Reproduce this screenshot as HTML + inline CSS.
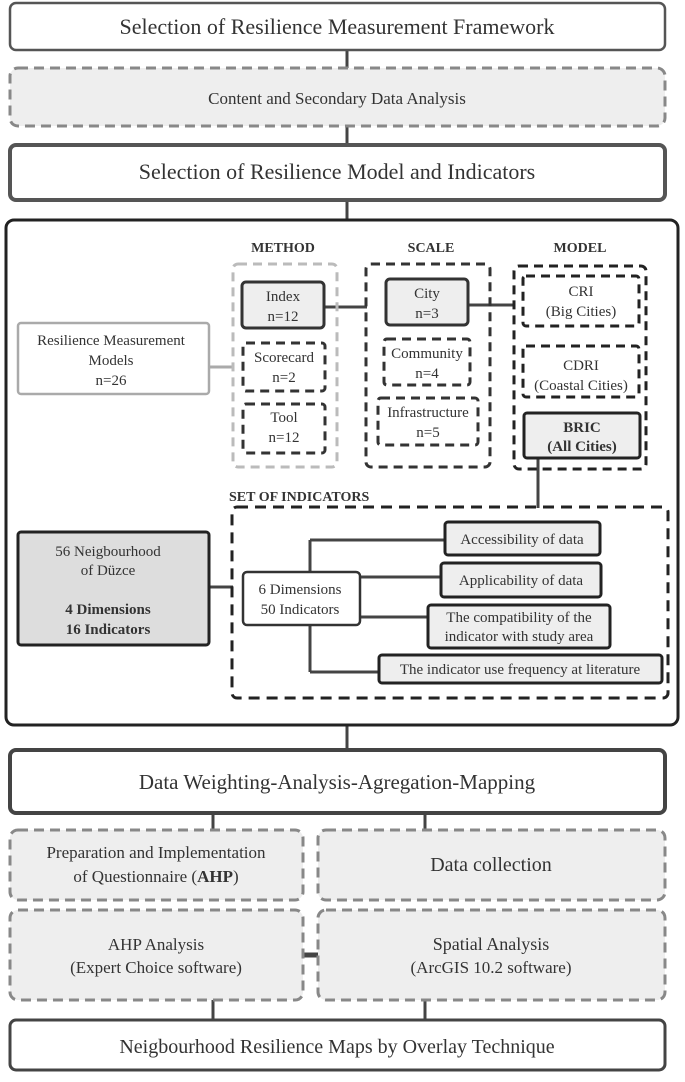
<!DOCTYPE html>
<html><head><meta charset="utf-8"><style>
html,body{margin:0;padding:0;background:#fff;}
svg text{font-family:"Liberation Serif",serif;fill:#333;}
</style></head><body>
<svg width="685" height="1077" viewBox="0 0 685 1077" xmlns="http://www.w3.org/2000/svg">
<g stroke="#444" stroke-width="3">
<line x1="347" y1="50" x2="347" y2="68"/>
<line x1="347" y1="126" x2="347" y2="145"/>
<line x1="347" y1="200" x2="347" y2="220"/>
<line x1="347" y1="725" x2="347" y2="750"/>
<line x1="213" y1="813" x2="213" y2="830"/>
<line x1="425" y1="813" x2="425" y2="830"/>
<line x1="213" y1="1000" x2="213" y2="1020"/>
<line x1="425" y1="1000" x2="425" y2="1020"/>
<line x1="303" y1="955" x2="318" y2="955" stroke-width="5"/>
</g>
<rect x="10" y="3" width="655" height="47" rx="6" fill="#fff" stroke="#555" stroke-width="2.5"/>
<text x="337" y="34" font-size="22" text-anchor="middle">Selection of Resilience Measurement Framework</text>
<rect x="10" y="68" width="655" height="58" rx="8" fill="#eee" stroke="#888" stroke-width="3" stroke-dasharray="10,6"/>
<text x="337" y="104" font-size="17" text-anchor="middle">Content and Secondary Data Analysis</text>
<rect x="10" y="145" width="655" height="55" rx="6" fill="#fff" stroke="#555" stroke-width="4"/>
<text x="337" y="179" font-size="22" text-anchor="middle">Selection of Resilience Model and Indicators</text>

<rect x="6" y="220" width="672" height="505" rx="8" fill="#fff" stroke="#222" stroke-width="3"/>
<g font-weight="bold" font-size="14" text-anchor="middle">
<text x="283" y="252">METHOD</text><text x="431" y="252">SCALE</text><text x="580" y="252">MODEL</text>
</g>
<g stroke="#444" stroke-width="3">
<line x1="209" y1="367" x2="233" y2="367" stroke="#aaa"/>
<line x1="325" y1="307" x2="367" y2="307"/>
<line x1="469" y1="305" x2="514" y2="305"/>
<line x1="538" y1="458" x2="538" y2="508"/>
<line x1="209" y1="587" x2="233" y2="587"/>
<line x1="310" y1="540" x2="310" y2="572"/>
<line x1="310" y1="625" x2="310" y2="672"/>
<line x1="310" y1="540" x2="445" y2="540"/>
<line x1="360" y1="577" x2="441" y2="577"/>
<line x1="360" y1="617" x2="427" y2="617"/>
<line x1="310" y1="672" x2="378" y2="672"/>
</g>
<rect x="18" y="323" width="191" height="71" rx="3" fill="#fff" stroke="#aaa" stroke-width="2.5"/>
<text x="111" y="345" font-size="15" text-anchor="middle">Resilience Measurement</text>
<text x="111" y="365" font-size="15" text-anchor="middle">Models</text>
<text x="111" y="385" font-size="15" text-anchor="middle">n=26</text>

<rect x="233" y="264" width="104" height="203" rx="5" fill="none" stroke="#bbb" stroke-width="3" stroke-dasharray="9,6"/>
<rect x="242" y="282" width="82" height="46" rx="4" fill="#eee" stroke="#333" stroke-width="3"/>
<text x="283" y="301" font-size="15" text-anchor="middle">Index</text><text x="283" y="321" font-size="15" text-anchor="middle">n=12</text>
<rect x="243" y="343" width="82" height="48" rx="3" fill="#fff" stroke="#333" stroke-width="3" stroke-dasharray="9,6"/>
<text x="284" y="362" font-size="15" text-anchor="middle">Scorecard</text><text x="284" y="382" font-size="15" text-anchor="middle">n=2</text>
<rect x="243" y="404" width="82" height="49" rx="3" fill="#fff" stroke="#333" stroke-width="3" stroke-dasharray="9,6"/>
<text x="284" y="422" font-size="15" text-anchor="middle">Tool</text><text x="284" y="442" font-size="15" text-anchor="middle">n=12</text>

<rect x="366" y="264" width="124" height="203" rx="5" fill="none" stroke="#333" stroke-width="3" stroke-dasharray="9,6"/>
<rect x="386" y="279" width="82" height="46" rx="4" fill="#eee" stroke="#333" stroke-width="3"/>
<text x="427" y="298" font-size="15" text-anchor="middle">City</text><text x="427" y="318" font-size="15" text-anchor="middle">n=3</text>
<rect x="384" y="339" width="86" height="46" rx="3" fill="#fff" stroke="#333" stroke-width="3" stroke-dasharray="9,6"/>
<text x="427" y="358" font-size="15" text-anchor="middle">Community</text><text x="427" y="378" font-size="15" text-anchor="middle">n=4</text>
<rect x="378" y="398" width="100" height="47" rx="3" fill="#fff" stroke="#333" stroke-width="3" stroke-dasharray="9,6"/>
<text x="428" y="417" font-size="15" text-anchor="middle">Infrastructure</text><text x="428" y="437" font-size="15" text-anchor="middle">n=5</text>

<rect x="514" y="266" width="132" height="203" rx="5" fill="none" stroke="#222" stroke-width="3" stroke-dasharray="9,6"/>
<rect x="523" y="276" width="116" height="50" rx="3" fill="#fff" stroke="#222" stroke-width="3" stroke-dasharray="9,6"/>
<text x="581" y="296" font-size="15" text-anchor="middle">CRI</text><text x="581" y="316" font-size="15" text-anchor="middle">(Big Cities)</text>
<rect x="523" y="346" width="116" height="51" rx="3" fill="#fff" stroke="#222" stroke-width="3" stroke-dasharray="9,6"/>
<text x="581" y="370" font-size="15" text-anchor="middle">CDRI</text><text x="581" y="390" font-size="15" text-anchor="middle">(Coastal Cities)</text>
<rect x="524" y="413" width="116" height="45" rx="3" fill="#eee" stroke="#222" stroke-width="3"/>
<text x="582" y="432" font-size="15" font-weight="bold" text-anchor="middle">BRIC</text><text x="582" y="451" font-size="15" font-weight="bold" text-anchor="middle">(All Cities)</text>

<text x="229" y="501" font-size="14" font-weight="bold">SET OF INDICATORS</text>
<rect x="232" y="507" width="436" height="191" rx="5" fill="none" stroke="#222" stroke-width="3" stroke-dasharray="11,7"/>
<rect x="18" y="532" width="191" height="113" rx="3" fill="#ddd" stroke="#222" stroke-width="3"/>
<text x="108" y="556" font-size="15" text-anchor="middle">56 Neigbourhood</text>
<text x="108" y="575" font-size="15" text-anchor="middle">of Düzce</text>
<text x="108" y="614" font-size="15" font-weight="bold" text-anchor="middle">4 Dimensions</text>
<text x="108" y="634" font-size="15" font-weight="bold" text-anchor="middle">16 Indicators</text>
<rect x="243" y="572" width="117" height="53" rx="4" fill="#fff" stroke="#333" stroke-width="2.5"/>
<text x="300" y="594" font-size="15" text-anchor="middle">6 Dimensions</text>
<text x="300" y="614" font-size="15" text-anchor="middle">50 Indicators</text>
<rect x="445" y="522" width="155" height="33" rx="3" fill="#eee" stroke="#222" stroke-width="3"/>
<text x="522" y="544" font-size="15" text-anchor="middle">Accessibility of data</text>
<rect x="441" y="563" width="160" height="34" rx="3" fill="#eee" stroke="#222" stroke-width="3"/>
<text x="521" y="585" font-size="15" text-anchor="middle">Applicability of data</text>
<rect x="428" y="605" width="182" height="43" rx="3" fill="#eee" stroke="#222" stroke-width="3"/>
<text x="519" y="622" font-size="15" text-anchor="middle">The compatibility of the</text>
<text x="519" y="641" font-size="15" text-anchor="middle">indicator with study area</text>
<rect x="379" y="655" width="283" height="28" rx="3" fill="#eee" stroke="#222" stroke-width="3"/>
<text x="520" y="674" font-size="15" text-anchor="middle">The indicator use frequency at literature</text>

<rect x="10" y="750" width="655" height="63" rx="6" fill="#fff" stroke="#444" stroke-width="4"/>
<text x="337" y="789" font-size="21" text-anchor="middle">Data Weighting-Analysis-Agregation-Mapping</text>
<rect x="10" y="830" width="293" height="70" rx="8" fill="#eee" stroke="#888" stroke-width="3" stroke-dasharray="10,6"/>
<text x="156" y="858" font-size="17" text-anchor="middle">Preparation and Implementation</text>
<text x="156" y="882" font-size="17" text-anchor="middle">of  Questionnaire (<tspan font-weight="bold">AHP</tspan>)</text>
<rect x="318" y="830" width="347" height="70" rx="8" fill="#eee" stroke="#888" stroke-width="3" stroke-dasharray="10,6"/>
<text x="491" y="871" font-size="20" text-anchor="middle">Data collection</text>
<rect x="10" y="910" width="293" height="90" rx="8" fill="#eee" stroke="#888" stroke-width="3" stroke-dasharray="10,6"/>
<text x="156" y="950" font-size="17" text-anchor="middle">AHP Analysis</text>
<text x="156" y="973" font-size="17" text-anchor="middle">(Expert Choice software)</text>
<rect x="318" y="910" width="347" height="90" rx="8" fill="#eee" stroke="#888" stroke-width="3" stroke-dasharray="10,6"/>
<text x="491" y="950" font-size="18" text-anchor="middle">Spatial Analysis</text>
<text x="491" y="973" font-size="17" text-anchor="middle">(ArcGIS 10.2 software)</text>
<rect x="10" y="1020" width="655" height="50" rx="6" fill="#fff" stroke="#444" stroke-width="3"/>
<text x="337" y="1053" font-size="20" text-anchor="middle">Neigbourhood Resilience Maps by Overlay Technique</text>
</svg>
</body></html>
